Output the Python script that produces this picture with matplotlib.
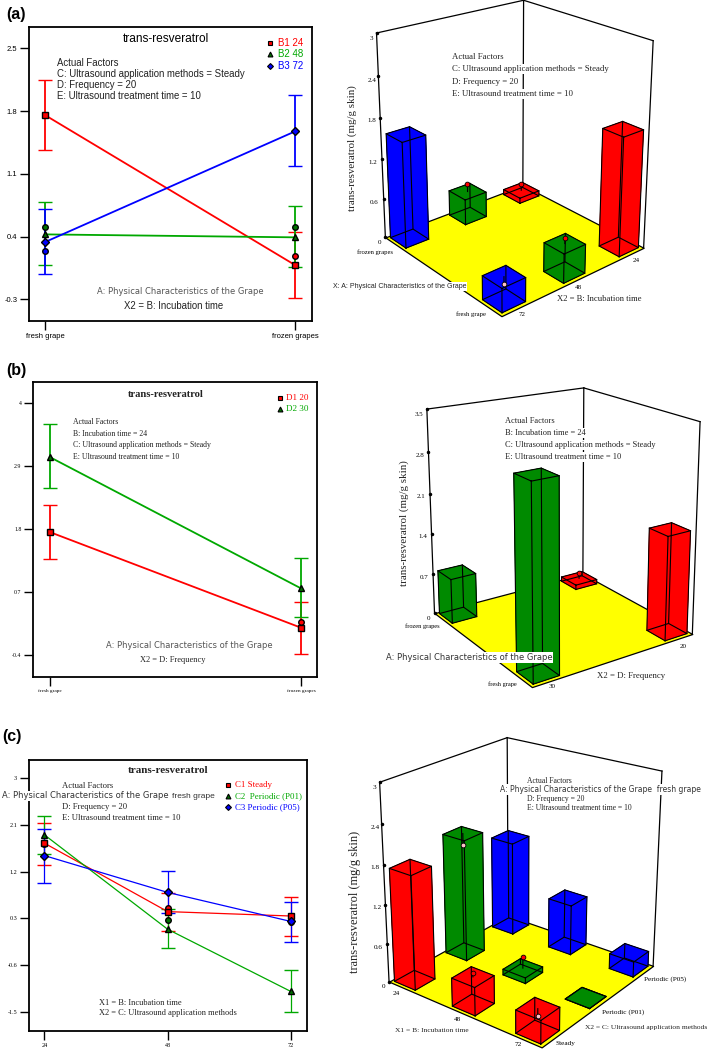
import numpy as np
import matplotlib
matplotlib.use("Agg")
import matplotlib.pyplot as plt
from mpl_toolkits.mplot3d.art3d import Poly3DCollection

W, H = 708, 1049
RED, GREEN, BLUE = "#ff0000", "#00a800", "#0000ff"
BAR_GREEN = "#008a00"
DARK_GREEN = "#007000"
SANS, SERIF, WIDE = "Liberation Sans", "Liberation Serif", "DejaVu Sans"

# panel a
a_cats = ["fresh grape", "frozen grapes"]
a_names = ["B1 24", "B2 48", "B3 72"]
a_mean = [[1.757, 0.084], [0.426, 0.393], [0.34, 1.575]]
a_low = [[1.367, -0.288], [0.084, 0.058], [-0.017, 1.185]]
a_high = [[2.144, 0.448], [0.79, 0.742], [0.709, 1.98]]
a_ticks = [-0.3, 0.4, 1.1, 1.8, 2.5]
a_zticks = ["3", "2.4", "1.8", "1.2", "0.6", "0"]
a_pt_series = [1, 2, 1, 0]
a_pt_col = [0, 0, 1, 1]
a_pt_val = [0.51, 0.236, 0.51, 0.188]

# panel b
b_cats = ["fresh grape", "frozen grapes"]
b_names = ["D1 20", "D2 30"]
b_mean = [[1.748, 0.082], [3.054, 0.767]]
b_low = [[1.272, -0.382], [2.514, 0.268]]
b_high = [[2.224, 0.535], [3.622, 1.30]]
b_ticks = [-0.4, 0.7, 1.8, 2.9, 4]
b_tick_labels = ["-0.4", "0.7", "1.8", "2.9", "4"]
b_pt_series = [0]
b_pt_col = [1]
b_pt_val = [0.175]

# panel c
c_x = [24, 48, 72]
c_names = ["C1 Steady", "C2  Periodic (P01)", "C3 Periodic (P05)"]
c_mean = [[1.75, 0.43, 0.345], [1.91, 0.09, -1.11], [1.51, 0.80, 0.24]]
c_low = [[1.33, 0.06, -0.04], [1.55, -0.28, -1.5], [0.98, 0.40, -0.15]]
c_high = [[2.14, 0.79, 0.72], [2.28, 0.48, -0.70], [2.03, 1.21, 0.62]]
c_ticks = [-1.5, -0.6, 0.3, 1.2, 2.1, 3]
c_tick_labels = ["-1.5", "-0.6", "0.3", "1.2", "2.1", "3"]
c_pt_series = [1, 0, 1, 0]
c_pt_col = [0, 1, 1, 2]
c_pt_val = [1.73, 0.49, 0.27, 0.23]

fig = plt.figure(figsize=(W / 100, H / 100), dpi=100, facecolor="white")


def put(x, y, s, font=SANS, size=6.0, ha="left", color="black", white=False, **kw):
    if white:
        kw["bbox"] = dict(facecolor="white", edgecolor="none", pad=0.6)
    return fig.text(x / W, 1 - y / H, s, family=font, fontsize=size, ha=ha, va="center", color=color, **kw)


def px_axes(left, top, right, bottom, **kw):
    return fig.add_axes([left / W, 1 - bottom / H, (right - left) / W, (bottom - top) / H], **kw)


def line_panel(box, xlim, ylim, x, mean, low, high, colors, markers, ticks, tick_labels, xlabels, lw, cap,
               font, tick_size, xtick_size, pts):
    ax = px_axes(*box)
    for i in range(len(mean)):
        m, lo, hi = np.array(mean[i]), np.array(low[i]), np.array(high[i])
        face = DARK_GREEN if colors[i] == GREEN else colors[i]
        ax.errorbar(x, m, yerr=[m - lo, hi - m], color=colors[i], lw=lw, elinewidth=lw, capsize=cap, capthick=lw,
                    marker=markers[i], mfc=face, mec="black", ms=3.6 if markers[i] == "D" else 4.4, mew=1.0)
    for s, c, v in zip(pts[0], pts[1], pts[2]):
        face = DARK_GREEN if colors[s] == GREEN else colors[s]
        ax.plot(x[c], v, marker="o", mfc=face, mec="black", ms=4.0, mew=1.0, color="none")
    ax.set_xlim(*xlim)
    ax.set_ylim(*ylim)
    ax.set_xticks(x)
    ax.set_xticklabels(xlabels, family=font, fontsize=xtick_size)
    ax.set_yticks(ticks)
    ax.set_yticklabels(tick_labels, family=font, fontsize=tick_size)
    ax.tick_params(length=6.5, width=1.0, pad=2)
    for sp in ax.spines.values():
        sp.set_linewidth(1.3)
    return ax


def camera(world, pixels):
    # fit a camera matrix to the frame corners of the reference view
    rows = []
    for (x, y, z), (u, v) in zip(world, pixels):
        rows.append([x, y, z, 1, 0, 0, 0, 0, -u * x, -u * y, -u * z, -u])
        rows.append([0, 0, 0, 0, x, y, z, 1, -v * x, -v * y, -v * z, -v])
    p = np.linalg.svd(np.array(rows))[2][-1].reshape(3, 4)
    extra = np.linalg.svd(p)[2][-1]
    return np.array([p[0], p[1], extra, p[2]])


def scene(region, corners, zmax):
    ax = px_axes(*region, projection="3d", computed_zorder=False)
    ax.set_axis_off()
    ax.patch.set_visible(False)
    # ortho only switches off the line clipping, get_proj below gives the real view
    ax.set_proj_type("ortho")
    world = [(0, 0, 0), (1, 0, 0), (0, 1, 0), (1, 1, 0), (0, 1, zmax), (1, 1, zmax), (1, 0, zmax)]
    display = np.array([[px, H - py] for px, py in corners])

    def get_proj():
        return camera(world, ax.transData.inverted().transform(display))

    ax.get_proj = get_proj

    ax.add_collection3d(Poly3DCollection([[(0, 0, 0), (1, 0, 0), (1, 1, 0), (0, 1, 0)]], facecolor="#ffff00",
                                         edgecolor="black", linewidth=0.9, zorder=1))
    for a, b in [((0, 1, 0), (0, 1, zmax)), ((0, 1, zmax), (1, 1, zmax)), ((1, 1, zmax), (1, 1, 0)),
                 ((1, 1, zmax), (1, 0, zmax)), ((1, 0, zmax), (1, 0, 0))]:
        ax.plot(*zip(a, b), color="black", lw=0.9, zorder=2)
    ax.plot([0] * 6, [1] * 6, np.linspace(0, zmax, 6), ls="none", marker="o", ms=1.5, color="black", zorder=2)
    return ax


def bars(ax, mean, colors, us, vs, pts, half=0.075):
    items = []
    for i, row in enumerate(mean):
        for j, val in enumerate(row):
            items.append((us[i] + vs[j], i, j, max(val, 0)))
    items.sort(reverse=True)
    zo = 3
    for _, i, j, h in items:
        x0, x1 = us[i] - half, us[i] + half
        y0, y1 = vs[j] - half, vs[j] + half
        col = BAR_GREEN if colors[i] == GREEN else colors[i]
        ax.bar3d(x0, y0, 0, 2 * half, 2 * half, h, color=col, shade=False, edgecolor=col, linewidth=0.3, zorder=zo)
        cx = [x0, x1, x1, x0, x0]
        cy = [y0, y0, y1, y1, y0]
        ax.plot(cx, cy, [0] * 5, color="black", lw=0.8, zorder=zo + 1)
        ax.plot(cx, cy, [h] * 5, color="black", lw=0.8, zorder=zo + 1)
        for k in range(4):
            ax.plot([cx[k]] * 2, [cy[k]] * 2, [0, h], color="black", lw=0.8, zorder=zo + 1)
        for s, c, v in zip(pts[0], pts[1], pts[2]):
            if s == i and c == j:
                above = v > h
                ax.plot([us[i]] * 2, [vs[j]] * 2, [h, v], color="black", lw=0.8, zorder=zo + 1)
                ax.plot([us[i]], [vs[j]], [v], marker="o", ms=3.4, mew=0.6, mec="black",
                        mfc=RED if above else "#ffc0c8", zorder=zo + 2)
        zo += 3


def legend_marker(x, y, mk, col):
    fig.lines.append(plt.Line2D([x / W], [1 - y / H], marker=mk, ms=3.0 if mk == "D" else 3.5, mew=0.8, mec="black",
                                mfc=DARK_GREEN if col == GREEN else col, transform=fig.transFigure))


# panel (a)
put(6, 15, "(a)", size=11.5, fontweight="bold")
line_panel((29.3, 26.7, 311.7, 320.7), (-0.0627, 1.0667), (-0.537, 2.743), [0, 1], a_mean, a_low, a_high,
           [RED, GREEN, BLUE], ["s", "^", "D"], a_ticks, ["-0.3", "0.4", "1.1", "1.8", "2.5"], a_cats, 1.3, 5.3,
           SANS, 5.5, 5.5, (a_pt_series, a_pt_col, a_pt_val))
put(166, 38.7, "trans-resveratrol", size=8.6, ha="center")
for yy, name, col, mk in zip([43.3, 54.3, 65.7], a_names, [RED, GREEN, BLUE], ["s", "^", "D"]):
    put(277.7, yy, name, size=7, color=col)
    legend_marker(270, yy, mk, col)
a_factors = ["Actual Factors", "C: Ultrasound application methods = Steady", "D: Frequency = 20",
             "E: Ultrasound treatment time = 10"]
for yy, s in zip([62.7, 73.7, 84.7, 95.7], a_factors):
    put(56.7, yy, s, size=6.9, color="#222222")
put(96.7, 291, "A: Physical Characteristics of the Grape", font=WIDE, size=6.0, color="#555555")
put(124.3, 305.7, "X2 = B: Incubation time", size=6.9, color="#222222")

ax = scene((320, -20, 708, 368),
           [(501.7, 316.7), (643.3, 247.3), (385, 236.7), (523.3, 186), (376.7, 33.3), (523.3, 0), (653.3, 40.7)], 3)
bars(ax, a_mean, [RED, GREEN, BLUE], [0.905, 0.5, 0.095], [0.095, 0.905], (a_pt_series, a_pt_col, a_pt_val))
for yy, s in zip([57.3, 69.3, 81.7, 93.7], a_factors):
    put(451.7, yy, s, font=SERIF, size=6.3, color="#222222", white=True)
put(351.7, 148, "trans-resveratrol (mg/g skin)", font=SERIF, size=7.8, ha="center", rotation=90, color="#222222")
for (xx, yy), s in zip([(371, 39), (372, 80), (372, 121), (373, 162), (374, 202), (379, 242)], a_zticks):
    put(xx, yy, s, font=SERIF, size=5, ha="center")
put(392.7, 251.7, "frozen grapes", font=SERIF, size=4.8, ha="right")
put(332.7, 286.7, "X: A: Physical Characteristics of the Grape", size=5.0, color="#222222", white=True)
put(485.7, 314, "fresh grape", font=SERIF, size=4.8, ha="right")
for xx, yy, s in [(521.7, 314, "72"), (578.7, 287.3, "48"), (636, 261, "24")]:
    put(xx, yy, s, font=SERIF, size=5, ha="center")
put(557.3, 299, "X2 = B: Incubation time", font=SERIF, size=6.2, color="#222222")

# panel (b)
put(6, 370.7, "(b)", size=11.5, fontweight="bold")
line_panel((33.3, 382.3, 317.3, 676.7), (-0.065, 1.065), (-0.771, 4.354), [0, 1], b_mean, b_low, b_high,
           [RED, GREEN], ["s", "^"], b_ticks, b_tick_labels, b_cats, 1.3, 5.3, SERIF, 4.2, 3.8,
           (b_pt_series, b_pt_col, b_pt_val))
put(165.7, 394.7, "trans-resveratrol", font=SERIF, size=7.6, ha="center", fontweight="bold", color="#222222")
for yy, name, col, mk in zip([398, 409.3], b_names, [RED, GREEN], ["s", "^"]):
    put(286, yy, name, font=SERIF, size=6.6, color=col)
    legend_marker(280, yy, mk, col)
b_factors = ["Actual Factors", "B: Incubation time = 24", "C: Ultrasound application methods = Steady",
             "E: Ultrasound treatment time = 10"]
for yy, s in zip([422.3, 433.7, 445.3, 457], b_factors):
    put(73, yy, s, font=SERIF, size=5.6, color="#222222")
put(105.7, 646, "A: Physical Characteristics of the Grape", font=WIDE, size=6.0, color="#555555")
put(140, 660, "X2 = D: Frequency", font=SERIF, size=6, color="#222222")

ax = scene((320, 345, 708, 733),
           [(532.7, 686.7), (691.7, 635), (434, 613.3), (583.3, 573.3), (426.7, 409.3), (584, 388.3), (700, 421)], 3.5)
bars(ax, b_mean, [RED, GREEN], [0.905, 0.095], [0.095, 0.905], (b_pt_series, b_pt_col, b_pt_val))
for yy, s in zip([420.7, 432.7, 445, 457], b_factors):
    put(505, yy, s, font=SERIF, size=6.0, color="#222222", white=True)
put(404.3, 523.3, "trans-resveratrol (mg/g skin)", font=SERIF, size=7.8, ha="center", rotation=90, color="#222222")
for (xx, yy), s in zip([(419, 415), (420, 455.7), (421, 496), (422.7, 536.7), (424, 577.3), (428.3, 618.3)],
                       ["3.5", "2.8", "2.1", "1.4", "0.7", "0"]):
    put(xx, yy, s, font=SERIF, size=5, ha="center")
put(440, 625.7, "frozen grapes", font=SERIF, size=4.6, ha="right")
put(386, 657.7, "A: Physical Characteristics of the Grape", font=WIDE, size=6.0, color="#333333", white=True)
put(516.7, 684.3, "fresh grape", font=SERIF, size=4.6, ha="right")
put(552.3, 686, "30", font=SERIF, size=5, ha="center")
put(682.7, 646, "20", font=SERIF, size=5, ha="center")
put(596.7, 676, "X2 = D: Frequency", font=SERIF, size=6.3, color="#222222")

# panel (c)
put(2.7, 736.7, "(c)", size=11.5, fontweight="bold")
line_panel((29, 760, 307.3, 1031), (21.0, 75.2), (-1.872, 3.353), c_x, c_mean, c_low, c_high,
           [RED, GREEN, BLUE], ["s", "^", "D"], c_ticks, c_tick_labels, ["24", "48", "72"], 0.9, 5.3, SERIF, 4.4, 4.4,
           (c_pt_series, c_pt_col, c_pt_val))
put(168.3, 770.7, "trans-resveratrol", font=SERIF, size=8.0, ha="center", fontweight="bold", color="#222222")
for yy, name, col, mk in zip([785.3, 796, 807], c_names, [RED, GREEN, BLUE], ["s", "^", "D"]):
    put(235, yy, name, font=SERIF, size=6.4, color=col)
    legend_marker(228, yy, mk, col)
put(62.3, 786, "Actual Factors", font=SERIF, size=6.2, color="#222222")
put(1.7, 796, "A: Physical Characteristics of the Grape", font=WIDE, size=6.0, color="#333333", white=True)
put(171.7, 796, "fresh grape", size=6.0, color="#333333", white=True)
put(62.3, 807, "D: Frequency = 20", font=SERIF, size=6.2, color="#222222")
put(62.3, 818, "E: Ultrasound treatment time = 10", font=SERIF, size=6.2, color="#222222")
put(99, 1002.7, "X1 = B: Incubation time", font=SERIF, size=6, color="#222222")
put(99, 1013.3, "X2 = C: Ultrasound application methods", font=SERIF, size=6, color="#222222")

ax = scene((320, 690, 708, 1078),
           [(541.7, 1047.3), (653.3, 966), (389.3, 981.7), (507.7, 915.7), (379.3, 782.3), (507.7, 737.7), (661.7, 771)], 3)
bars(ax, c_mean, [RED, GREEN, BLUE], [0.095, 0.5, 0.905], [0.905, 0.5, 0.095], (c_pt_series, c_pt_col, c_pt_val))
put(527.3, 781.3, "Actual Factors", font=SERIF, size=5.5, color="#222222", white=True)
put(500, 789.3, "A: Physical Characteristics of the Grape  fresh grape", font=WIDE, size=5.5, color="#333333", white=True)
put(527.3, 799, "D: Frequency = 20", font=SERIF, size=5.5, color="#222222", white=True)
put(527.3, 808, "E: Ultrasound treatment time = 10", font=SERIF, size=5.5, color="#222222", white=True)
put(355, 901.7, "trans-resveratrol (mg/g skin)", font=SERIF, size=8.9, ha="center", rotation=90, color="#222222")
for (xx, yy), s in zip([(374, 787.7), (375, 827.7), (375.3, 867.7), (376.7, 907.3), (378.3, 947.3), (383.3, 986.7)],
                       ["3", "2.4", "1.8", "1.2", "0.6", "0"]):
    put(xx, yy, s, font=SERIF, size=5.2, ha="center")
for xx, yy, s in [(396.7, 993.3, "24"), (457.7, 1019.3, "48"), (518.3, 1044, "72")]:
    put(xx, yy, s, font=SERIF, size=5.2, ha="center")
put(556, 1043, "Steady", font=SERIF, size=5.2)
put(601.7, 1012, "Periodic (P01)", font=SERIF, size=5.2)
put(644.3, 979.3, "Periodic (P05)", font=SERIF, size=5.2)
put(395, 1030, "X1 = B: Incubation time", font=SERIF, size=5.4, color="#222222")
put(585, 1027.3, "X2 = C: Ultrasound application methods", font=SERIF, size=5.4, color="#222222")

fig.savefig("out.png", dpi=100)
